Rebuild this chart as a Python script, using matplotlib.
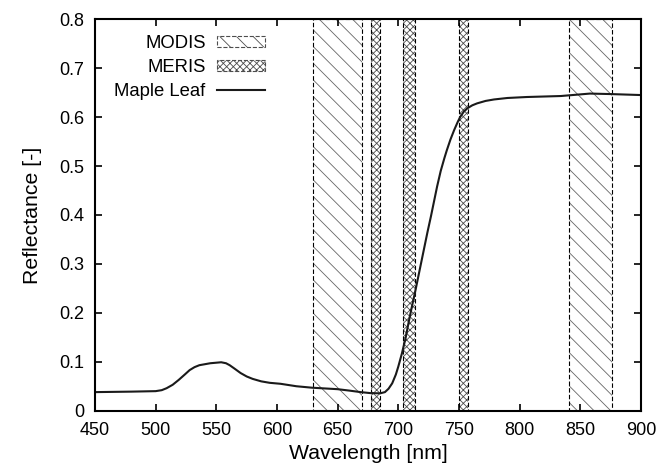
import matplotlib
matplotlib.use('Agg')
import matplotlib.pyplot as plt
from matplotlib.patches import Patch
from matplotlib.lines import Line2D

plt.rcParams['font.family'] = ['Liberation Sans', 'DejaVu Sans']
plt.rcParams['hatch.linewidth'] = 0.6

# спектр кленового листа
wavelength = [450, 480, 500, 505, 509, 514, 519, 524, 528, 532, 536, 545, 554, 558, 561, 565,
              570, 575, 580, 587, 594, 603, 616, 629, 636, 650, 660, 669, 677, 685, 689, 692,
              695, 698, 700, 703, 706, 708.5, 711, 714, 718, 721, 724, 727, 729, 732, 735, 738,
              740, 743, 746, 749, 751, 754, 757, 761, 765, 772, 779, 790, 806, 834, 858, 875, 900]
reflectance = [0.038, 0.039, 0.040, 0.042, 0.046, 0.053, 0.063, 0.074, 0.083, 0.089, 0.093,
               0.097, 0.099, 0.097, 0.093, 0.086, 0.077, 0.070, 0.065, 0.060, 0.057, 0.055,
               0.050, 0.047, 0.046, 0.044, 0.041, 0.038, 0.036, 0.0355, 0.038, 0.045, 0.056,
               0.074, 0.090, 0.117, 0.148, 0.180, 0.210, 0.244, 0.292, 0.328, 0.364, 0.398,
               0.422, 0.458, 0.490, 0.516, 0.532, 0.554, 0.573, 0.590, 0.600, 0.611, 0.618,
               0.624, 0.628, 0.633, 0.636, 0.639, 0.641, 0.643, 0.648, 0.647, 0.645]

# полосы сенсоров (начало, конец), нм
modis_bands = [(630, 670), (841, 876)]
meris_bands = [(677.5, 685), (703.75, 713.75), (750, 757.5)]

fig = plt.figure(figsize=(6.6, 4.68), dpi=100)
ax = fig.add_axes([0.144, 0.1224, 0.827, 0.8366])

modis_style = dict(facecolor='white', edgecolor='0.4', hatch='\\\\', lw=0.0)
meris_style = dict(facecolor='white', edgecolor='0.3', hatch='xxxxx', lw=0.0)
edge_style = dict(fill=False, edgecolor='black', linestyle=(0, (4, 2)), lw=0.8)

for lo, hi in modis_bands:
    ax.axvspan(lo, hi, **modis_style)
    ax.axvspan(lo, hi, **edge_style)
for lo, hi in meris_bands:
    ax.axvspan(lo, hi, **meris_style)
    ax.axvspan(lo, hi, **edge_style)

ax.plot(wavelength, reflectance, color='#1a1a1a', lw=1.5)

ax.set_xlim(450, 900)
ax.set_ylim(0, 0.8)
ax.set_xticks(range(450, 901, 50))
ax.set_yticks([0, 0.1, 0.2, 0.3, 0.4, 0.5, 0.6, 0.7, 0.8])
ax.set_yticklabels(['0', '0.1', '0.2', '0.3', '0.4', '0.5', '0.6', '0.7', '0.8'])
ax.tick_params(direction='in', top=True, right=True, length=5, width=1.2, labelsize=13, pad=8)
for s in ax.spines.values():
    s.set_linewidth(1.5)

ax.set_xlabel('Wavelength [nm]', fontsize=15.3, labelpad=4)
ax.set_ylabel('Reflectance [-]', fontsize=15.3, labelpad=12)

handles = [Patch(facecolor='white', edgecolor='0.3', hatch='\\\\', linestyle='--', lw=0.8),
           Patch(facecolor='white', edgecolor='0.3', hatch='xxxxx', linestyle='--', lw=0.8),
           Line2D([], [], color='#1a1a1a', lw=1.5)]
ax.legend(handles, ['MODIS', 'MERIS', 'Maple Leaf'], loc='upper left', frameon=False,
          markerfirst=False, fontsize=13.3, handlelength=2.6, handleheight=0.55,
          handletextpad=0.6, labelspacing=0.4, bbox_to_anchor=(0.005, 1.003))

fig.savefig('out.png', dpi=100)
